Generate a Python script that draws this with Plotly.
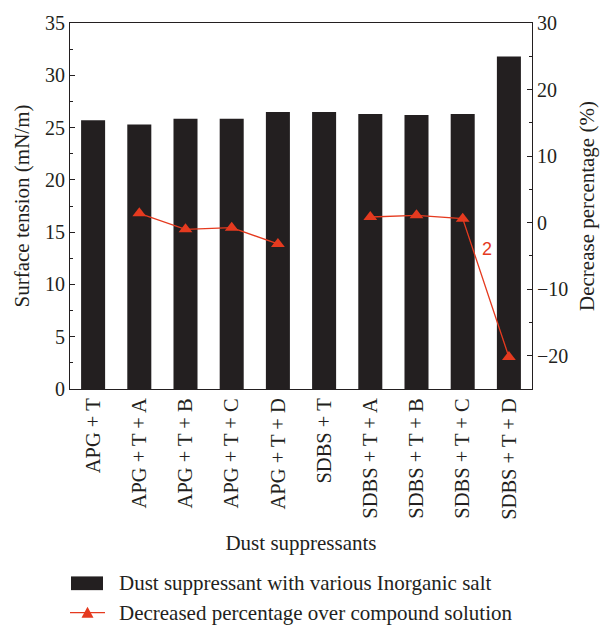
import plotly.graph_objects as go

categories = ["APG + T", "APG + T + A", "APG + T + B", "APG + T + C", "APG + T + D",
              "SDBS + T", "SDBS + T + A", "SDBS + T + B", "SDBS + T + C", "SDBS + T + D"]
surface_tension = [25.7, 25.3, 25.85, 25.85, 26.5, 26.5, 26.3, 26.2, 26.3, 31.8]
decrease_pct = [None, 1.4, -1.0, -0.75, -3.2, None, 0.85, 1.1, 0.6, -20.2]

bar_name = "Dust suppressant with various Inorganic salt"
line_name = "Decreased percentage over compound solution"

DARK = "#231f20"
RED = "#e53a1f"
FONT = "Liberation Serif"

fig = go.Figure()
fig.add_trace(go.Bar(x=categories, y=surface_tension, name=bar_name,
                     marker=dict(color=DARK, line=dict(width=0)), width=0.52,
                     showlegend=False))
fig.add_trace(go.Scatter(x=categories, y=decrease_pct, name=line_name, yaxis="y2",
                         mode="lines+markers", connectgaps=False,
                         line=dict(color=RED, width=1.3),
                         marker=dict(symbol="triangle-up", size=12, color=RED),
                         showlegend=False))

# red "2" label next to the falling segment
fig.add_annotation(x=8.53, y=-3.9, xref="x", yref="y2", text="2", showarrow=False,
                   font=dict(family="Liberation Sans", size=18, color=RED))

# legend drawn below the plot
fig.add_shape(type="rect", xref="paper", yref="paper",
              x0=(71 - 70) / 462, x1=(103 - 70) / 462,
              y0=(389 - 594) / 373, y1=(389 - 580) / 373,
              fillcolor=DARK, line=dict(width=0))
fig.add_shape(type="line", xref="paper", yref="paper",
              x0=(70 - 70) / 462, x1=(105 - 70) / 462,
              y0=(389 - 617) / 373, y1=(389 - 617) / 373,
              line=dict(color=RED, width=1.3))
tx, ty = (87.5 - 70) / 462, (389 - 617) / 373
fig.add_shape(type="path", xref="paper", yref="paper",
              path=f"M {tx - 6/462} {ty - 5/373} L {tx + 6/462} {ty - 5/373} L {tx} {ty + 6/373} Z",
              fillcolor=RED, line=dict(width=0))
for name, py in [(bar_name, 587), (line_name, 617)]:
    fig.add_annotation(x=(117 - 70) / 462, y=(389 - py) / 373, xref="paper", yref="paper",
                       text=name, showarrow=False, xanchor="left", yanchor="middle",
                       font=dict(family=FONT, size=21, color=DARK))

fig.update_layout(
    width=609, height=631,
    margin=dict(l=70, r=77, t=16, b=242),
    paper_bgcolor="white", plot_bgcolor="white",
    font=dict(family=FONT, size=20, color=DARK),
    bargap=0.48,
    xaxis=dict(range=[-0.5, 9.5], showline=True, linecolor=DARK, linewidth=1.2,
               mirror=True, ticks="", tickangle=-90, tickfont=dict(size=20.5),
               title=dict(text="Dust suppressants", font=dict(size=21), standoff=16)),
    yaxis=dict(range=[0, 35], dtick=5, showgrid=False, zeroline=False,
               showline=True, linecolor=DARK, linewidth=1.2,
               ticks="inside", ticklen=5, tickcolor=DARK,
               minor=dict(dtick=2.5, ticks="inside", ticklen=3, tickcolor=DARK),
               tickfont=dict(size=20),
               title=dict(text="Surface tension (mN/m)", font=dict(size=21), standoff=9)),
    yaxis2=dict(range=[-25, 30], overlaying="y", side="right",
                tickvals=[-20, -10, 0, 10, 20, 30], showgrid=False, zeroline=False,
                showline=True, linecolor=DARK, linewidth=1.2,
                ticks="inside", ticklen=5, tickcolor=DARK,
                minor=dict(tickvals=[-25, -15, -5, 5, 15, 25], ticks="inside",
                           ticklen=3, tickcolor=DARK),
                tickfont=dict(size=20),
                title=dict(text="Decrease percentage (%)", font=dict(size=21), standoff=11)),
)

fig.write_html("out.html")
